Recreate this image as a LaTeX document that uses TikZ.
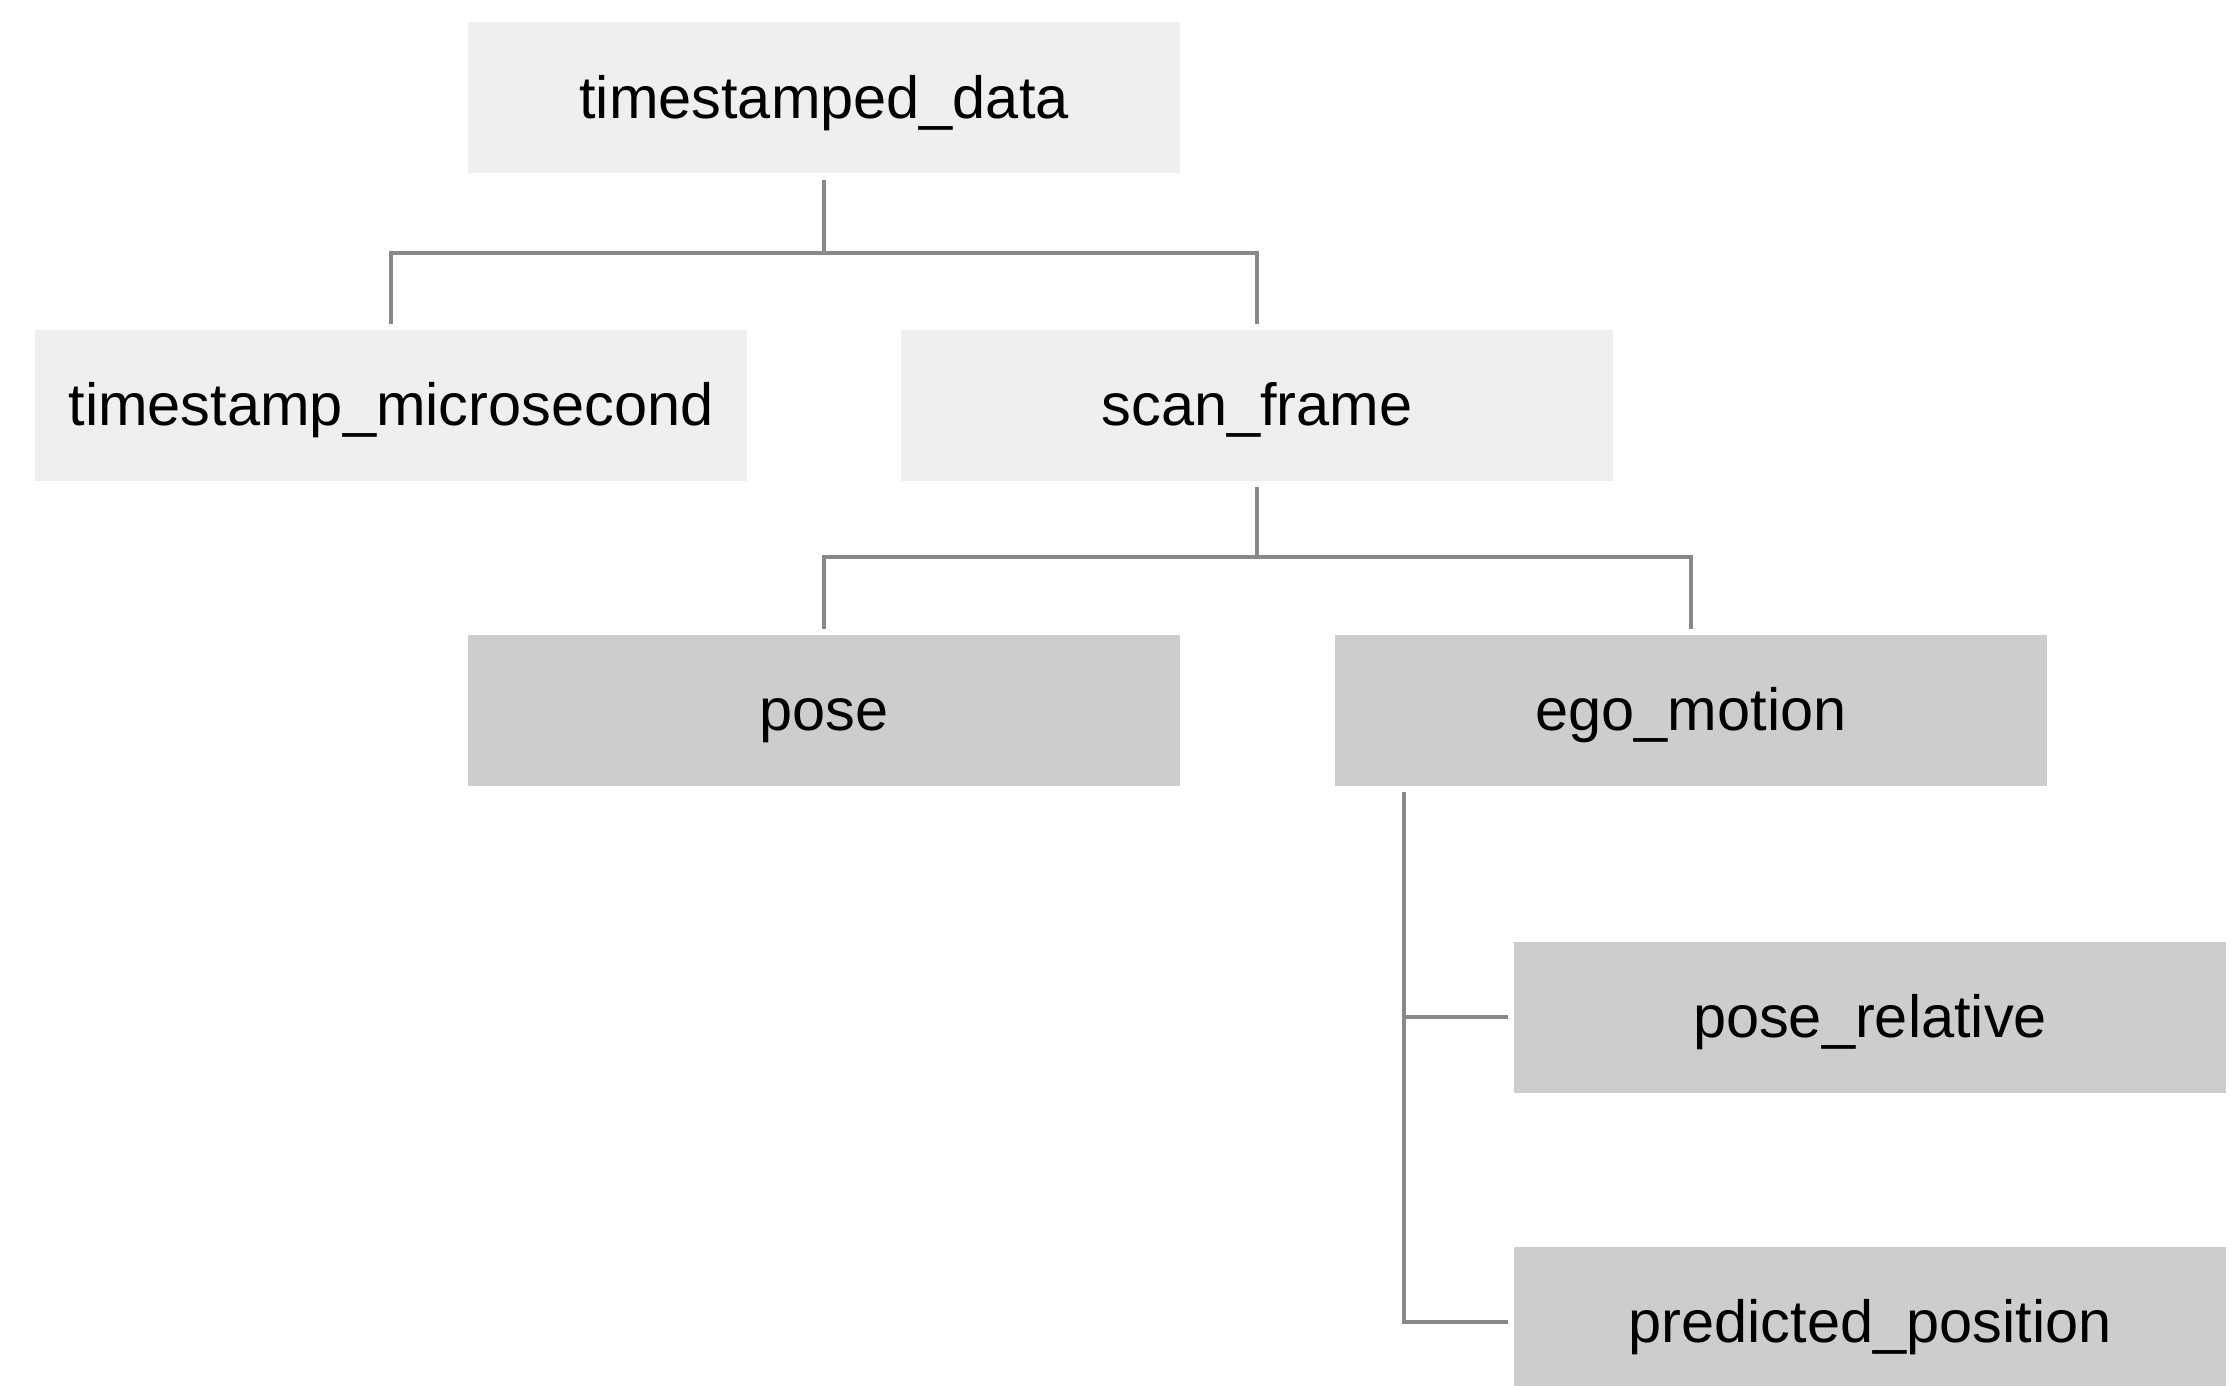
\documentclass[tikz,border=0pt]{standalone}
\usepackage{fontspec}
\setmainfont{Liberation Sans}
\begin{document}
\begin{tikzpicture}[x=1pt,y=-1pt,
  box/.style={minimum width=712pt,minimum height=151pt,inner sep=0pt,text height=50pt,text depth=9pt,font=\fontsize{59.5}{62}\selectfont,text=black},
  lightbox/.style={box,fill=lightfill},
  darkbox/.style={box,fill=darkfill},
  conn/.style={draw=connc,line width=4pt}]
\definecolor{lightfill}{HTML}{EFEFEF}
\definecolor{darkfill}{HTML}{CDCDCD}
\definecolor{connc}{HTML}{888888}
\useasboundingbox[fill=white] (0,0) rectangle (2239,1386);
\node[lightbox] (td) at (824,98) {timestamped\_data};
\node[lightbox] (tm) at (391,405) {timestamp\_microsecond};
\node[lightbox] (sf) at (1257,405) {scan\_frame};
\node[darkbox] (po) at (824,710) {pose};
\node[darkbox] (em) at (1691,710) {ego\_motion};
\node[darkbox] (pr) at (1870,1017) {pose\_relative};
\node[darkbox] (pp) at (1870,1322) {predicted\_position};
\draw[conn,shorten <=6pt,shorten >=5pt] (td.south) -- ++(0,79) -| (tm.north);
\draw[conn,shorten >=5pt] (td.south) ++(0,79) -| (sf.north);
\draw[conn,shorten <=6pt,shorten >=5pt] (sf.south) -- ++(0,76) -| (po.north);
\draw[conn,shorten >=5pt] (sf.south) ++(0,76) -| (em.north);
\draw[conn,shorten <=6pt,shorten >=6pt] ([xshift=69pt]em.south west) |- (pp.west);
\draw[conn,shorten >=6pt] ([xshift=69pt]em.south west |- pr.west) -- (pr.west);
\end{tikzpicture}
\end{document}
